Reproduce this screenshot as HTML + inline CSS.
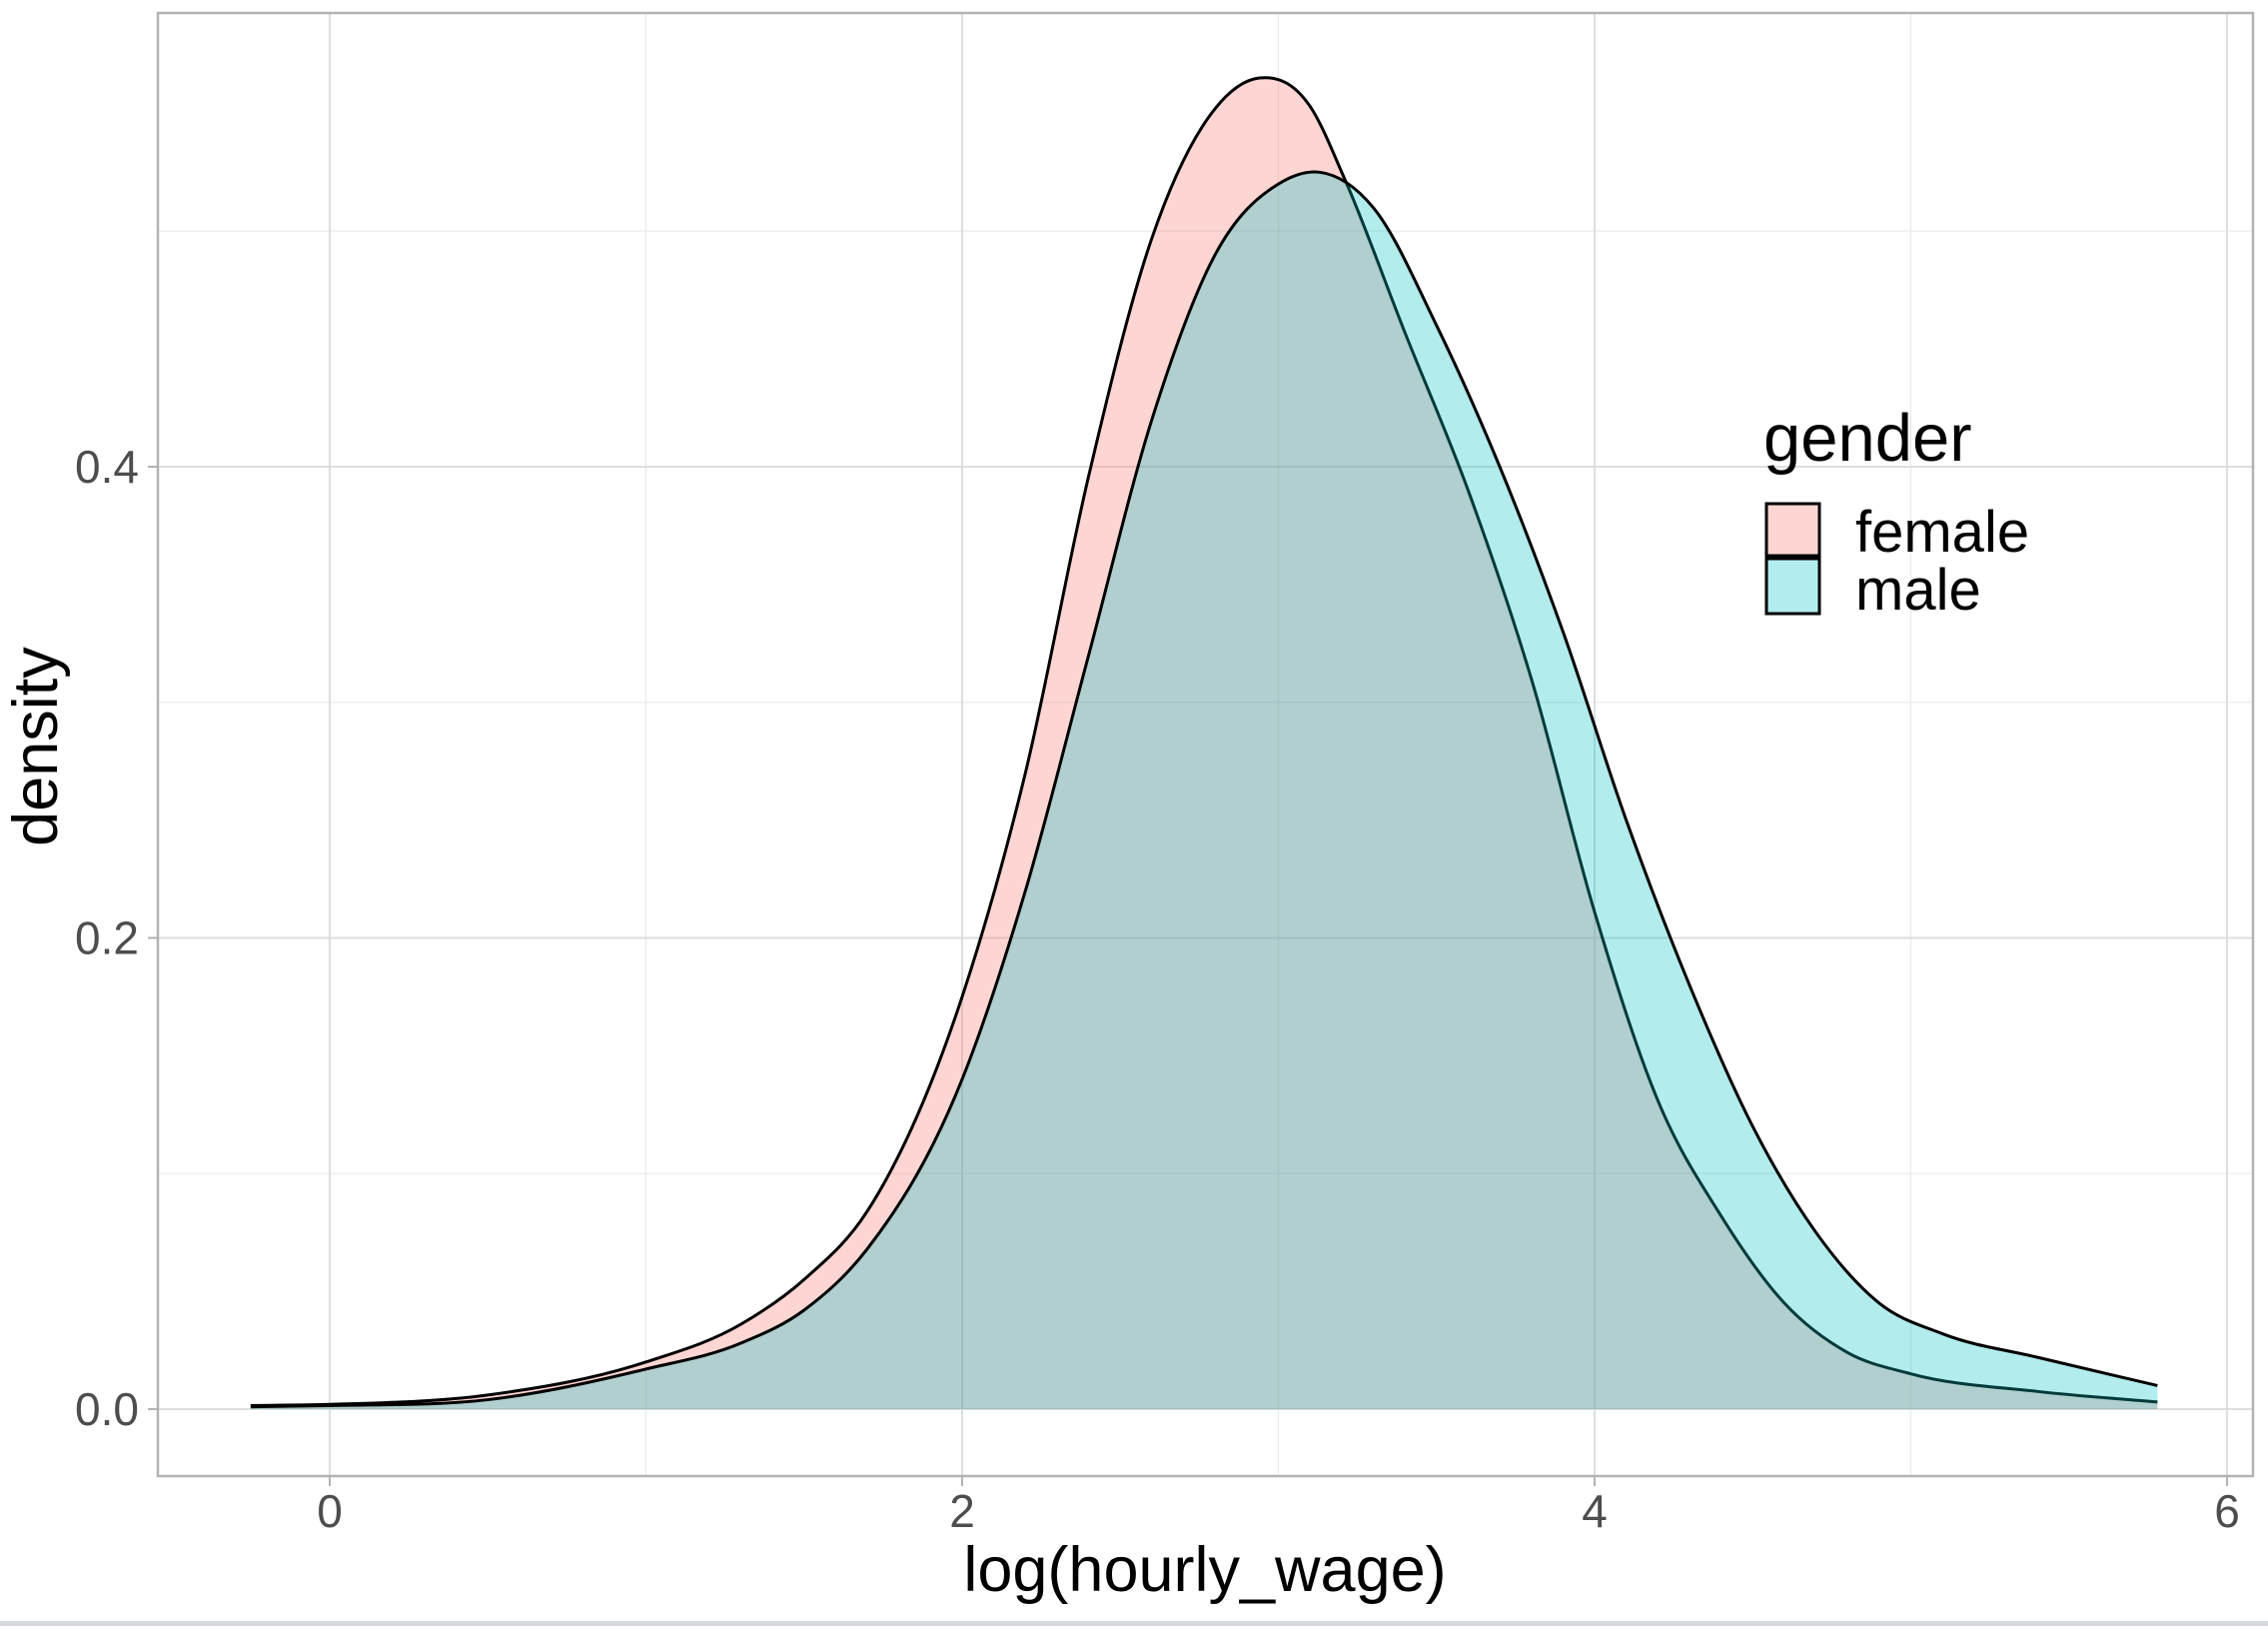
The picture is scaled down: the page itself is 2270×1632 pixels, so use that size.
<!DOCTYPE html>
<html><head><meta charset="utf-8"><style>
html,body{margin:0;padding:0;background:#fff}
svg text{font-family:"Liberation Sans",Arial,sans-serif}
</style></head><body>
<svg id="chart" width="2270" height="1627" xmlns="http://www.w3.org/2000/svg">
<rect x="0" y="1622" width="2270" height="5" fill="#d5d8dc"/>
<g id="grid"></g>
<g id="series"></g>
<rect x="158" y="13" width="2097" height="1464" fill="none" stroke="#b3b3b3" stroke-width="2.5"/>
<g id="axes"></g>
<text x="1206" y="1592" font-size="63" text-anchor="middle" fill="#000">log(hourly_wage)</text>
<text transform="translate(57,747) rotate(-90)" font-size="63" text-anchor="middle" fill="#000">density</text>
<g>
<text x="1765" y="461" font-size="67" fill="#000">gender</text>
<rect x="1768" y="504" width="53" height="52" fill="#fdd6d3" stroke="#000" stroke-width="3"/>
<rect x="1768" y="559" width="53" height="55" fill="#b3ecee" stroke="#000" stroke-width="3"/>
<text x="1857" y="552" font-size="58" fill="#000">female</text>
<text x="1857" y="610" font-size="58" fill="#000">male</text>
</g>
</svg>
<script>
const xTicks=[0,2,4,6];
const yTicks=[0.0,0.2,0.4];
const yTickLabels=["0.0","0.2","0.4"];
const xMinor=[1,3,5];
const yMinor=[0.1,0.3,0.5];
const femaleX=[-0.25,0,0.5,1.0,1.3,1.5,1.7,2.0,2.2,2.4,2.6,2.8,2.94,3.1,3.21,3.4,3.6,3.8,4.0,4.2,4.4,4.6,4.8,5.0,5.4,5.78];
const femaleY=[0.0015,0.002,0.006,0.020,0.036,0.055,0.084,0.175,0.27,0.396,0.497,0.552,0.565,0.553,0.522,0.457,0.39,0.31,0.211,0.131,0.082,0.045,0.024,0.015,0.0075,0.003];
const maleX=[-0.25,0,0.5,1.0,1.3,1.5,1.7,2.0,2.2,2.4,2.6,2.8,3.0,3.13,3.3,3.5,3.7,3.9,4.1,4.3,4.5,4.7,4.9,5.1,5.4,5.78];
const maleY=[0.001,0.0015,0.004,0.017,0.028,0.042,0.068,0.14,0.22,0.32,0.42,0.49,0.52,0.525,0.51,0.46,0.40,0.33,0.25,0.18,0.12,0.075,0.045,0.032,0.022,0.01];

const NS="http://www.w3.org/2000/svg";
const sx=v=>330+v*316.5;
const sy=v=>1410-v*2357.5;
function mk(tag,attrs,parent){const e=document.createElementNS(NS,tag);for(const k in attrs)e.setAttribute(k,attrs[k]);parent.appendChild(e);return e;}
const grid=document.getElementById('grid'),axes=document.getElementById('axes'),series=document.getElementById('series');
xMinor.forEach(v=>{const l=mk('line',{x1:sx(v),x2:sx(v),y1:13,y2:1477,stroke:'#ebebeb','stroke-width':1.3},grid);

});
yMinor.forEach(v=>{const l=mk('line',{x1:158,x2:2255,y1:sy(v),y2:sy(v),stroke:'#ebebeb','stroke-width':1.3},grid);

});
xTicks.forEach(v=>{const l=mk('line',{x1:sx(v),x2:sx(v),y1:13,y2:1477,stroke:'#dedede','stroke-width':2},grid);


const t=mk('line',{x1:sx(v),x2:sx(v),y1:1477,y2:1487,stroke:'#b3b3b3','stroke-width':2},axes);


const tx=mk('text',{x:sx(v),y:1528,'font-size':46,'text-anchor':'middle',fill:'#4d4d4d'},axes);tx.textContent=String(v);

});
yTicks.forEach((v,i)=>{const l=mk('line',{x1:158,x2:2255,y1:sy(v),y2:sy(v),stroke:'#dedede','stroke-width':2},grid);


const t=mk('line',{x1:148,x2:158,y1:sy(v),y2:sy(v),stroke:'#b3b3b3','stroke-width':2},axes);


const tx=mk('text',{x:139,y:sy(v)+16,'font-size':46,'text-anchor':'end',fill:'#4d4d4d'},axes);tx.textContent=yTickLabels[i];

});
function curve(xs,ys){const p=xs.map((x,i)=>[sx(x),sy(ys[i])]);const n=p.length;
const s=[];for(let i=0;i<n-1;i++)s.push((p[i+1][1]-p[i][1])/(p[i+1][0]-p[i][0]));
const m=[];for(let i=0;i<n;i++){if(i===0)m.push(s[0]);else if(i===n-1)m.push(s[n-2]);else{const h0=p[i][0]-p[i-1][0],h1=p[i+1][0]-p[i][0];m.push((s[i-1]*h1+s[i]*h0)/(h0+h1));}}
let d='M'+p[0][0]+','+p[0][1];
for(let i=0;i<n-1;i++){const h=p[i+1][0]-p[i][0];
d+=` C${p[i][0]+h/3},${p[i][1]+m[i]*h/3} ${p[i+1][0]-h/3},${p[i+1][1]-m[i+1]*h/3} ${p[i+1][0]},${p[i+1][1]}`;}return d;}
function draw(xs,ys,col,name){const c=curve(xs,ys);
const f=mk('path',{d:c+` L${sx(xs[xs.length-1])},${sy(0)} L${sx(xs[0])},${sy(0)} Z`,fill:col,'fill-opacity':0.3},series);


const s=mk('path',{d:c,fill:'none',stroke:'#000','stroke-width':3},series);

}
draw(femaleX,femaleY,'#F8766D','female');
draw(maleX,maleY,'#00BFC4','male');
</script>
</body></html>
